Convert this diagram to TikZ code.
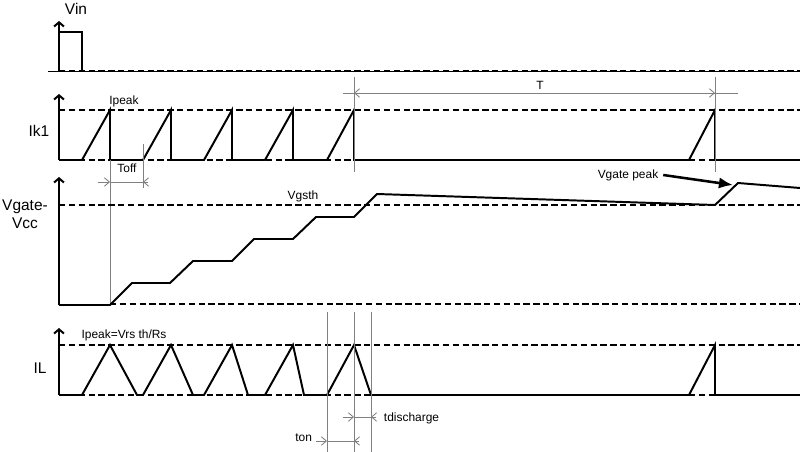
\documentclass[tikz,border=0pt]{standalone}
\usepackage{fontspec}
\setmainfont{Liberation Sans}
\usetikzlibrary{arrows.meta}
\begin{document}
\begin{tikzpicture}[x=0.025cm,y=-0.025cm,
 >={Straight Barb[length=3.5pt,width=6pt]},
 wave/.style={line width=1.4pt,line join=miter},
 level/.style={line width=1.4pt,dash pattern=on 4.5pt off 2.5pt},
 axis/.style={line width=1.4pt,-{Straight Barb[length=3pt,width=7pt]}},
 dim/.style={gray,line width=0.6pt},
 big/.style={font=\fontsize{11}{12.5}\selectfont},
 small/.style={font=\fontsize{8.5}{10}\selectfont}]
 \useasboundingbox (0,0) rectangle (800,452);
 % Vin
 \draw[axis] (59,71) -- (59,21);
 \draw[line width=0.6pt] (48,71) -- (800,71);
 \draw[level] (59,71) -- (800,71);
 \draw[wave] (59,71) -- (59,32) -- (82,32) -- (82,71);
 \node[big] (vin) at (76,9) {Vin};
 % Ik1
 \draw[axis] (59,160) -- (59,94);
 \draw[level] (59,110) -- (800,110);
 \draw[level] (59,160) -- (800,160);
 \draw[wave] (59,160) -- (82,160) -- (110,110) -- (110,160) -- (143,160)
 -- (171,110) -- (171,160) -- (204,160) -- (232,110) -- (232,160)
 -- (265,160) -- (293,110) -- (293,160) -- (327,160) -- (354,110)
 -- (354,160) -- (689,160);
 \draw[wave] (689,160) -- (715,110) -- (715,160) -- (800,160);
 \node[big] (ik) at (39,131) {Ik1};
 \node[small] (ipk) at (124,101) {Ipeak};
 % Toff and T
 \draw[dim] (110,160) -- (110,305);
 \draw[dim] (143,144) -- (143,188);
 \draw[dim] (110,182) -- (143,182);
 \draw[dim,->] (98,182) -- (110,182);
 \draw[dim,->] (148,182) -- (143,182);
 \node[small] (toff) at (127,168) {Toff};
 \draw[dim] (354,77) -- (354,172);
 \draw[dim] (715,77) -- (715,172);
 \draw[dim] (343,93) -- (738,93);
 \draw[dim,->] (370,93) -- (354,93);
 \draw[dim,->] (700,93) -- (715,93);
 \node[small] (per) at (540,85) {T};
 % Vgate-Vcc
 \draw[axis] (59,305) -- (59,177);
 \draw[level] (59,205) -- (800,205);
 \draw[level] (110,304) -- (800,304);
 \draw[wave] (59,305) -- (110,305) -- (132,283) -- (170,283) -- (193,261)
 -- (232,261) -- (254,239) -- (293,239) -- (316,217) -- (354,217)
 -- (377,194) -- (715,205) -- (738,183) -- (800,188);
 \node[big,align=center] (vg) at (25,214) {Vgate-\\Vcc};
 \node[small] (vth) at (303,196) {Vgsth};
 \node[small] (vpk) at (628,175) {Vgate peak};
 \draw[line width=1.8pt,-{Latex[length=10pt,width=8pt]}] (vpk.east) -- (733,185);
 % IL
 \draw[axis] (59,395) -- (59,328);
 \draw[level] (59,345) -- (800,345);
 \draw[level] (59,395) -- (800,395);
 \draw[wave] (59,395) -- (82,395) -- (110,345) -- (137,395) -- (143,395)
 -- (171,345) -- (193,395) -- (204,395) -- (232,345) -- (248,395)
 -- (265,395) -- (293,345) -- (304,395) -- (327,395) -- (354,345)
 -- (371,395) -- (689,395);
 \draw[wave] (689,395) -- (715,345) -- (715,395) -- (800,395);
 \node[big] (il) at (40,368) {IL};
 \node[small] (ilpk) at (124,335) {Ipeak=Vrs th/Rs};
 % ton and tdischarge
 \draw[dim] (327,312) -- (327,452);
 \draw[dim] (354,312) -- (354,452);
 \draw[dim] (371,312) -- (371,452);
 \draw[dim] (354,417) -- (371,417);
 \draw[dim,->] (343,417) -- (354,417);
 \draw[dim,->] (376,417) -- (371,417);
 \node[small,anchor=west] (tdis) at (379,418) {tdischarge};
 \draw[dim] (327,441) -- (354,441);
 \draw[dim,->] (316,441) -- (327,441);
 \draw[dim,->] (359,441) -- (354,441);
 \node[small,anchor=east] (ton) at (317,438) {ton};
\end{tikzpicture}
\end{document}
